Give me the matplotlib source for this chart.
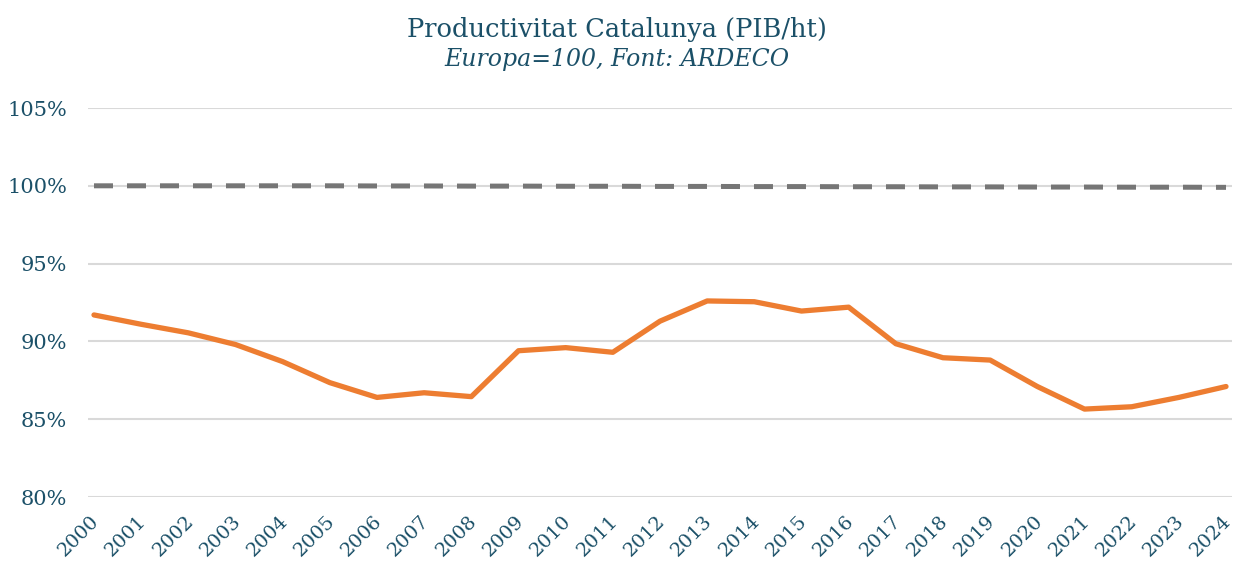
import matplotlib
matplotlib.use("Agg")
import matplotlib.pyplot as plt
import matplotlib.transforms as mtransforms

# Data (Europa = 100)
years = list(range(2000, 2025))
catalunya = [91.7, 91.1, 90.55, 89.8, 88.7, 87.35, 86.4, 86.7, 86.45, 89.4,
             89.6, 89.3, 91.3, 92.6, 92.55, 91.95, 92.2, 89.85, 88.95, 88.8,
             87.1, 85.65, 85.8, 86.4, 87.1]
europa = [100.0, 100.0, 100.0, 100.0, 100.0, 100.0, 99.99, 99.99, 99.98, 99.98,
          99.97, 99.97, 99.96, 99.96, 99.95, 99.95, 99.94, 99.94, 99.93, 99.93,
          99.92, 99.92, 99.91, 99.91, 99.9]
y_ticks = [80, 85, 90, 95, 100, 105]

text_color = "#1B5068"
plt.rcParams['font.family'] = ['DejaVu Serif']

fig = plt.figure(figsize=(12.34, 5.65), dpi=100)
ax = fig.add_axes([88 / 1234, 1 - 497 / 565, (1232 - 88) / 1234, (497 - 108) / 565])

ax.plot(years, europa, color="#767676", lw=3.6, dashes=(3.8, 2.8), solid_capstyle='butt')
ax.plot(years, catalunya, color="#ED7D31", lw=3.8, solid_capstyle='round')

ax.set_ylim(80, 105)
ax.set_xlim(1999.873, 2024.127)
ax.set_yticks(y_ticks)
ax.set_yticklabels([f"{v}%" for v in y_ticks], color=text_color, fontsize=15)
ax.set_xticks(years)
ax.set_xticklabels([str(y) for y in years], rotation=45, ha='right',
                   rotation_mode='anchor', color=text_color, fontsize=14)

ax.grid(axis='y', color="#D9D9D9", lw=1.5)
ax.set_axisbelow(True)
ax.tick_params(axis='y', length=0, pad=15)
ax.tick_params(axis='x', length=0, pad=8)
for s in ax.spines.values():
    s.set_visible(False)

# nudge the slanted year labels (after tick_params, which resets transforms)
offset = mtransforms.ScaledTranslation(-4 / 100, -4 / 100, fig.dpi_scale_trans)
for lab in ax.get_xticklabels():
    lab.set_transform(lab.get_transform() + offset)

fig.text(0.5, 1 - 30 / 565, "Productivitat Catalunya (PIB/ht)", ha='center', va='center',
         fontsize=18.5, color=text_color)
fig.text(0.5, 1 - 60 / 565, "Europa=100, Font: ARDECO", ha='center', va='center',
         fontsize=17, color=text_color, style='italic')

fig.savefig("out.png", dpi=100)
